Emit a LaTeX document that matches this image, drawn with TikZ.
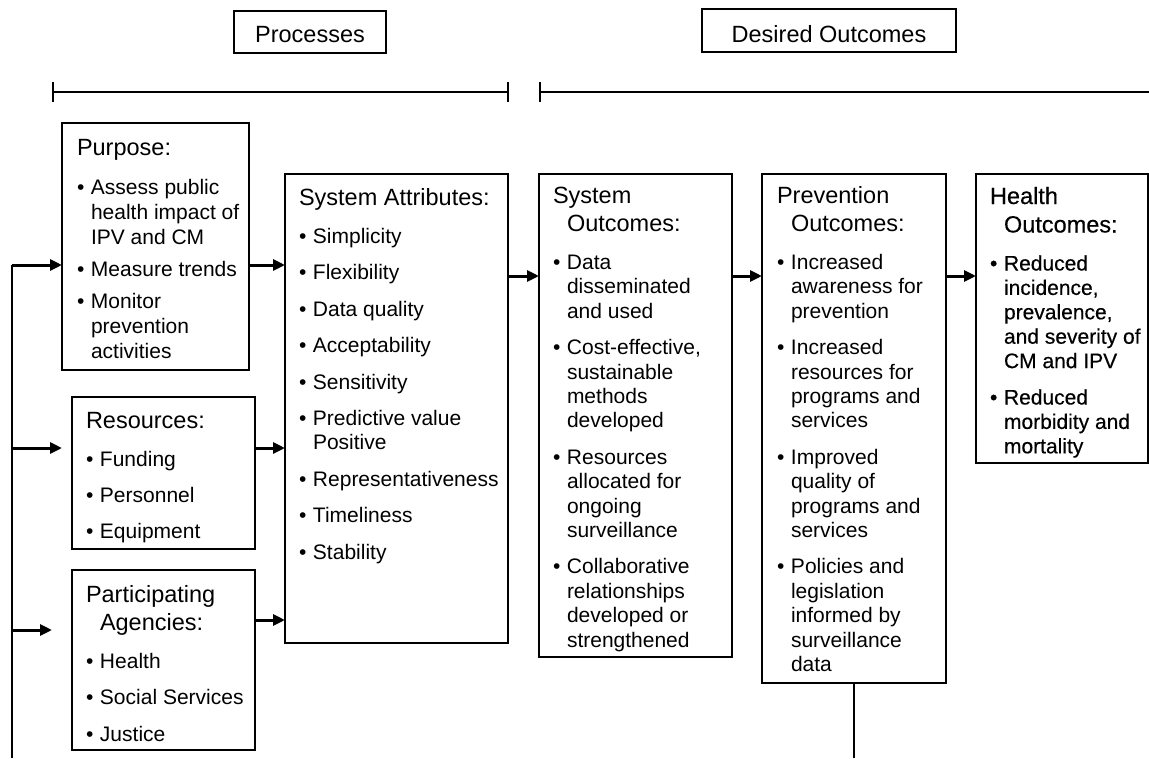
\documentclass[tikz,border=0pt]{standalone}
\usepackage{fontspec}
\setmainfont{Liberation Sans}
\newfontfamily\heavysans[FakeBold=0.4]{Liberation Sans}
\usetikzlibrary{arrows.meta}

\setlength\parskip{0pt}
\newlength\itemgap
\setlength\itemgap{12pt}
% box heading: first line flush, following lines hang
\newcommand\cardtitle[1]{\fontsize{23.5}{28.5}\selectfont\hangindent=14pt\hangafter=1\noindent#1\par
  \fontsize{21}{24.4}\selectfont\vspace{\dimexpr13.6pt-\itemgap\relax}}
% bulleted entry with hanging indent
\newcommand\bitem[1]{\vspace{\itemgap}\hangindent=14pt\hangafter=1\noindent\makebox[14pt][l]{\textbullet}#1\par}
\newcommand\cardtext[2]{\parbox[t]{#1}{\setlength\parskip{0pt}#2}}

\begin{document}
\begin{tikzpicture}[x=1pt,y=-1pt,
  card/.style={draw, line width=1.2pt, inner sep=0pt, outer sep=0pt, anchor=north west},
  hdr/.style={draw, line width=1.2pt, inner sep=0pt, outer sep=0pt,
    font=\fontsize{23.5}{28}\selectfont, text depth=0pt},
  cardtxt/.style={inner sep=0pt, outer sep=0pt, anchor=base west},
  flow/.style={line width=3pt, -{Triangle[length=12pt,width=11pt]}},
  span/.style={line width=2pt},
  loop/.style={line width=1.5pt}]

\useasboundingbox (0,0) rectangle (1149,758);

% section headings and their spans
\node[hdr, minimum width=152pt, minimum height=42pt, text height=20pt] (proc) at (310,32) {Processes};
\node[hdr, minimum width=254pt, minimum height=43pt, text height=23pt] (desired) at (829,30.5) {Desired Outcomes};

\coordinate (procL) at (52,92);
\coordinate (procR) at (509,92);
\coordinate (outL) at (539,92);
\coordinate (outR) at (1152,92);
\draw[span, {Bar[width=20pt]}-{Bar[width=20pt]}] (procL) -- (procR);
\draw[span, {Bar[width=20pt]}-] (outL) -- (outR);

% boxes
\node[card, minimum width=187pt, minimum height=247pt] (purpose)   at (62,123) {};
\node[card, minimum width=183pt, minimum height=152pt] (resources) at (72,397) {};
\node[card, minimum width=183pt, minimum height=180pt] (agencies)  at (72,570) {};
\node[card, minimum width=223pt, minimum height=469pt] (sysattr)   at (285,174) {};
\node[card, minimum width=193pt, minimum height=483pt] (sysout)    at (539,174) {};
\node[card, minimum width=184pt, minimum height=509pt] (prevout)   at (762,174) {};
\node[card, minimum width=172pt, minimum height=289pt] (health)    at (976,174) {};

% box contents
\node[cardtxt] (purposetxt) at ([shift={(15pt,-32.5pt)}]purpose.north west) {\cardtext{170pt}{%
  \setlength\itemgap{7pt}%
  \fontsize{21}{25}\selectfont
  \cardtitle{Purpose:}
  \fontsize{21}{25}\selectfont
  \bitem{Assess public\\health impact of\\IPV and CM}
  \bitem{Measure trends}
  \bitem{Monitor\\prevention\\activities}}};

\node[cardtxt] (resourcestxt) at ([shift={(14pt,-31pt)}]resources.north west) {\cardtext{168pt}{%
  \cardtitle{Resources:}
  \bitem{Funding}
  \bitem{Personnel}
  \bitem{Equipment}}};

\node[cardtxt] (agenciestxt) at ([shift={(14pt,-32pt)}]agencies.north west) {\cardtext{168pt}{%
  \cardtitle{Participating\\Agencies:}
  \bitem{Health}
  \bitem{Social Services}
  \bitem{Justice}}};

\node[cardtxt] (sysattrtxt) at ([shift={(14pt,-31.5pt)}]sysattr.north west) {\cardtext{208pt}{%
  \cardtitle{System Attributes:}
  \bitem{Simplicity}
  \bitem{Flexibility}
  \bitem{Data quality}
  \bitem{Acceptability}
  \bitem{Sensitivity}
  \bitem{Predictive value\\Positive}
  \bitem{Representativeness}
  \bitem{Timeliness}
  \bitem{Stability}}};

\node[cardtxt] (sysouttxt) at ([shift={(14pt,-29pt)}]sysout.north west) {\cardtext{178pt}{%
  \cardtitle{System\\Outcomes:}
  \bitem{Data\\disseminated\\and used}
  \bitem{Cost-effective,\\sustainable\\methods\\developed}
  \bitem{Resources\\allocated for\\ongoing\\surveillance}
  \bitem{Collaborative\\relationships\\developed or\\strengthened}}};

\node[cardtxt] (prevouttxt) at ([shift={(15pt,-29pt)}]prevout.north west) {\cardtext{168pt}{%
  \cardtitle{Prevention\\Outcomes:}
  \bitem{Increased\\awareness for\\prevention}
  \bitem{Increased\\resources for\\programs and\\services}
  \bitem{Improved\\quality of\\programs and\\services}
  \bitem{Policies and\\legislation\\informed by\\surveillance\\data}}};

\node[cardtxt] (healthtxt) at ([shift={(14pt,-30pt)}]health.north west) {\cardtext{157pt}{\heavysans
  \cardtitle{Health\\Outcomes:}
  \bitem{Reduced\\incidence,\\prevalence,\\and severity of\\CM and IPV}
  \bitem{Reduced\\morbidity and\\mortality}}};

% arrow levels
\coordinate (lvlP) at (0,265);
\coordinate (lvlR) at (0,448);
\coordinate (lvlA) at (0,630);
\coordinate (lvlAo) at (0,620);
\coordinate (lvlS) at (0,276);
\coordinate (railtop) at (12,265);
\coordinate (railbot) at (12,758);

% feedback rail on the left
\draw[loop] (railbot) -- (railtop);
\draw[flow] (railtop) -- (purpose.west |- railtop);
\draw[flow] (railtop |- lvlR) -- ([xshift=-10pt]resources.west |- lvlR);
\draw[flow] (railtop |- lvlA) -- ([xshift=-20pt]agencies.west |- lvlA);

% flow between stages
\draw[flow] (purpose.east |- lvlP) -- (sysattr.west |- lvlP);
\draw[flow] (resources.east |- lvlR) -- (sysattr.west |- lvlR);
\draw[flow] (agencies.east |- lvlAo) -- (sysattr.west |- lvlAo);
\draw[flow] (sysattr.east |- lvlS) -- (sysout.west |- lvlS);
\draw[flow] (sysout.east |- lvlS) -- (prevout.west |- lvlS);
\draw[flow] (prevout.east |- lvlS) -- (health.west |- lvlS);

% return line below prevention outcomes
\draw[loop] (prevout.south) -- (prevout.south |- railbot);
\end{tikzpicture}
\end{document}
